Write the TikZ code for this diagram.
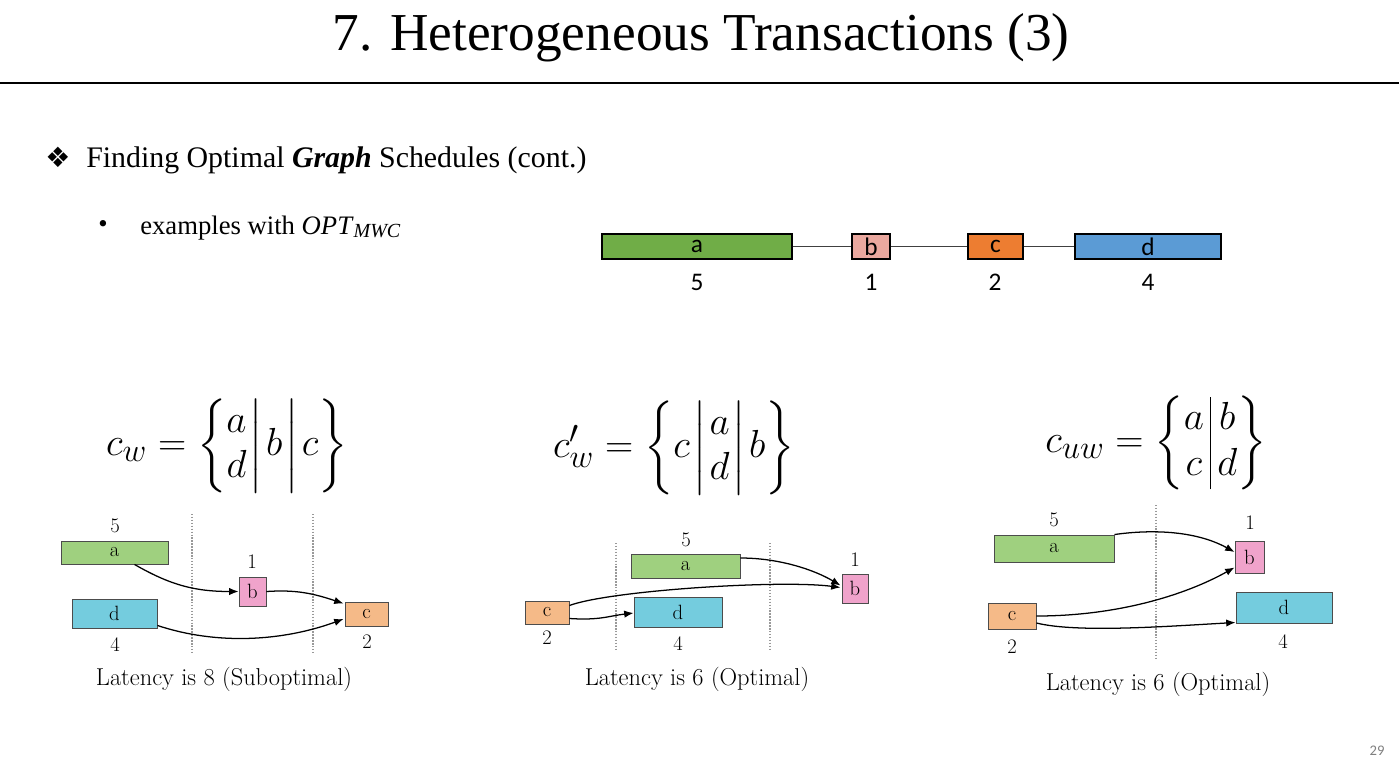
\documentclass[tikz,border=0pt]{standalone}
\usepackage{exscale}
\usepackage{fontspec}
\newfontfamily\tnr{Liberation Serif}
\newfontfamily\calib{Carlito}
\newfontfamily\dejavu{DejaVu Sans}
\usetikzlibrary{arrows.meta,calc}
\definecolor{tgreen}{HTML}{70AD47}
\definecolor{tpink}{HTML}{EAA89F}
\definecolor{torange}{HTML}{ED7D31}
\definecolor{tblue}{HTML}{5B9BD5}
\definecolor{dgreen}{HTML}{9FD07F}
\definecolor{dcyan}{HTML}{74CCDE}
\definecolor{dpink}{HTML}{F0A3CB}
\definecolor{dorange}{HTML}{F5BA88}
\tikzset{
  tbox/.style={draw=black, line width=0.8pt, inner sep=0pt, font=\calib\fontsize{19}{22}\selectfont},
  tnum/.style={font=\calib\fontsize{19}{22}\selectfont, inner sep=0pt},
  tline/.style={draw=black!75, line width=0.6pt},
  dbox/.style={draw=black!70, line width=0.7pt, inner sep=0pt, font=\fontsize{15.5}{18}\selectfont},
  dnum/.style={font=\fontsize{15.5}{18}\selectfont, inner sep=0pt},
  dlat/.style={font=\fontsize{18.3}{21}\selectfont, inner sep=0pt},
  sep/.style={draw=black!40, dash pattern=on 1.1pt off 1.1pt, line width=0.9pt},
  arr/.style={-{Latex[length=7pt,width=5.5pt]}, line width=0.95pt, black},
  formula/.style={inner sep=0pt, scale=1.18, font=\Huge},
}
\newcommand\vb{\mkern1.5mu\middle|\mkern1.5mu}
% box from (x1,y1) to (x2,y2): style, name, text
\newcommand\bnode[7]{\node[#5, minimum width={(#3-#1)*0.75pt}, minimum height={(#4-#2)*0.75pt}] (#6) at ({(#1+#3)/2},{(#2+#4)/2}) {#7};}
\begin{document}
\begin{tikzpicture}[x=0.75pt,y=-0.75pt]
\fill[white] (0,0) rectangle (1399,761);
\path[use as bounding box] (0,0) rectangle (1399,761);

% title
\node[anchor=base, inner sep=0pt, font=\tnr\fontsize{40}{48}\selectfont] (title) at (701,50) {7. Heterogeneous Transactions (3)};
\draw[line width=1.5pt] (0,83) -- (1399,83);

% bullets
\node[inner sep=0pt, font=\dejavu\fontsize{21}{24}\selectfont] (diam) at (58,157) {❖};
\node[anchor=base west, inner sep=0pt, font=\tnr\fontsize{22.4}{27}\selectfont] (head) at (86,167) {Finding Optimal \textbf{\textit{Graph}} Schedules (cont.)};
\node[inner sep=0pt, font=\tnr\fontsize{20}{24}\selectfont] (bul) at (103,226) {•};
\node[anchor=base west, inner sep=0pt, font=\tnr\fontsize{20}{24}\selectfont] (ex) at (140,234) {examples with \textit{OPT}\raisebox{-0.3ex}{\fontsize{15}{18}\selectfont\textit{MWC}}};

% top graph
\bnode{602}{234}{792}{259}{tbox, fill=tgreen}{ta}{a}
\bnode{852}{234}{890}{259}{tbox, fill=tpink}{tb}{b}
\bnode{968}{234}{1023}{259}{tbox, fill=torange}{tc}{c}
\bnode{1075}{234}{1221}{259}{tbox, fill=tblue}{td}{d}
\draw[tline] (ta) -- (tb);
\draw[tline] (tb) -- (tc);
\draw[tline] (tc) -- (td);
\node[tnum] (tna) at (697,282) {5};
\node[tnum] (tnb) at (871,282) {1};
\node[tnum] (tnc) at (995,282) {2};
\node[tnum] (tnd) at (1148,282) {4};

% formulas
\node[formula] (f1) at (227,446) {\renewcommand{\arraystretch}{0.96}$c_w = \left\{\begin{array}{@{}c@{}}a\\ d\end{array}\vb b\vb c\right\}$};
\node[formula] (f2) at (674,448) {\renewcommand{\arraystretch}{0.96}$c'_w = \left\{c\vb\begin{array}{@{}c@{}}a\\ d\end{array}\vb b\right\}$};
\node[formula] (f3) at (1156,443) {\renewcommand{\arraystretch}{0.98}$c_{uw} = \left\{\begin{array}{@{}c@{\,}|@{\,}c@{}}a & b\\ c & d\end{array}\right\}$};

% diagram 1
\draw[sep] (192,514) -- (192,652);
\draw[sep] (313,514) -- (313,652);
\bnode{61}{541}{168}{564}{dbox, fill=dgreen}{a1}{a}
\bnode{72}{599}{157}{628}{dbox, fill=dcyan}{d1}{d}
\bnode{239}{577}{266}{606}{dbox, fill=dpink}{b1}{b}
\bnode{345}{602}{388}{626}{dbox, fill=dorange}{c1}{c}
\node[dnum] (n1a) at (115,526) {5};
\node[dnum] (n1d) at (115,645) {4};
\node[dnum] (n1b) at (252,562) {1};
\node[dnum] (n1c) at (367,642) {2};
\draw[arr] ($(a1.south west)+(74,0)$) .. controls +(35,20) and +(-45,0) .. (b1.west);
\draw[arr] (b1.east) .. controls +(30,-2) and +(-30,-10) .. ($(c1.north west)+(-1,2)$);
\draw[arr] ($(d1.south east)+(0,-3)$) .. controls +(60,20) and +(-60,22) .. ($(c1.west)+(-1,5)$);
\node[dlat] (l1) at (224,679) {Latency is 8 (Suboptimal)};

% diagram 2
\draw[sep] (616,543) -- (616,649);
\draw[sep] (770,543) -- (770,649);
\bnode{525}{601}{569}{624}{dbox, fill=dorange}{c2}{c}
\bnode{631}{554}{740}{578}{dbox, fill=dgreen}{a2}{a}
\bnode{634}{597}{722}{627}{dbox, fill=dcyan}{d2}{d}
\bnode{842}{574}{868}{603}{dbox, fill=dpink}{b2}{b}
\node[dnum] (n2a) at (686,540) {5};
\node[dnum] (n2b) at (855,560) {1};
\node[dnum] (n2c) at (547,638) {2};
\node[dnum] (n2d) at (678,644) {4};
\draw[arr] ($(c2.east)+(0,-7)$) .. controls +(40,-15) and +(-60,-8) .. ($(b2.west)+(-1,-1)$);
\draw[arr] ($(c2.east)+(0,6)$) .. controls +(30,2) and +(-25,3) .. ($(d2.west)+(0,1)$);
\draw[arr] ($(a2.east)+(0,-8)$) .. controls +(40,0) and +(-25,-15) .. ($(b2.west)+(-1,-3)$);
\node[dlat] (l2) at (697,679) {Latency is 6 (Optimal)};

% diagram 3
\draw[sep] (1156,505) -- (1156,658);
\bnode{994}{535}{1114}{562}{dbox, fill=dgreen}{a3}{a}
\bnode{988}{603}{1036}{629}{dbox, fill=dorange}{c3}{c}
\bnode{1235}{541}{1264}{573}{dbox, fill=dpink}{b3}{b}
\bnode{1236}{592}{1332}{623}{dbox, fill=dcyan}{d3}{d}
\node[dnum] (n3a) at (1054,520) {5};
\node[dnum] (n3b) at (1250,523) {1};
\node[dnum] (n3c) at (1012,647) {2};
\node[dnum] (n3d) at (1283,642) {4};
\draw[arr] (a3.north east) .. controls +(35,-5) and +(-40,-22) .. ($(b3.west)+(0,-5)$);
\draw[arr] (c3.east) .. controls +(80,0) and +(-50,28) .. ($(b3.south west)+(0,-6)$);
\draw[arr] ($(c3.east)+(0,7)$) .. controls +(40,10) and +(-70,4) .. ($(d3.south west)+(0,-1)$);
\node[dlat] (l3) at (1158,684) {Latency is 6 (Optimal)};

% page number
\node[inner sep=0pt, text=black!50, font=\calib\fontsize{11}{13}\selectfont] (pg) at (1377,751) {29};
\end{tikzpicture}
\end{document}
